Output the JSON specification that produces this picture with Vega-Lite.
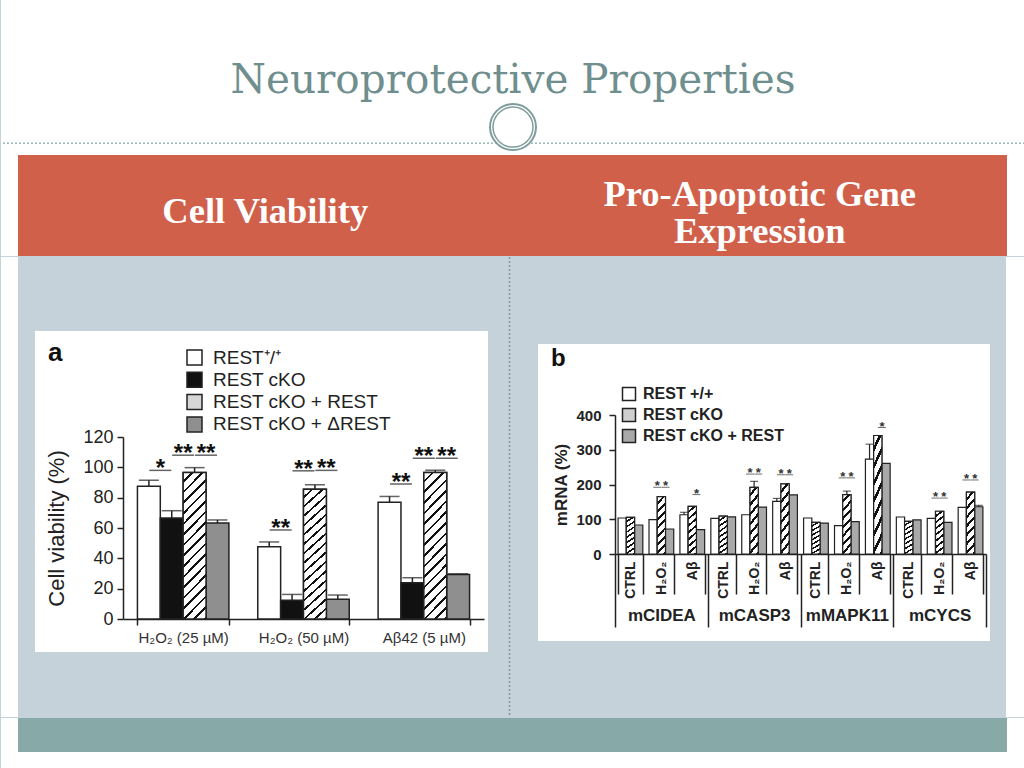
{
"$schema": "https://vega.github.io/schema/vega-lite/v6.json",
"background": "#c6d2d9",
"padding": 0,
"spacing": 0,
"config": {
  "font": "Liberation Sans",
  "view": {"stroke": null},
  "concat": {"spacing": 0},
  "axis": {"labelFont": "Liberation Sans", "titleFont": "Liberation Sans", "domainColor": "#222222", "tickColor": "#222222", "labelColor": "#222222", "titleColor": "#222222", "grid": false},
  "legend": {"labelFont": "Liberation Sans", "titleFont": "Liberation Sans"},
  "title": {"font": "Liberation Sans"}
},
"datasets": {
  "A": [
    {"g":"H₂O₂ (25 µM)","s":"REST⁺/⁺","v":87.6,"e":91.5},
    {"g":"H₂O₂ (25 µM)","s":"REST cKO","v":66.6,"e":71.4},
    {"g":"H₂O₂ (25 µM)","s":"REST cKO + REST","v":96.6,"e":99.8},
    {"g":"H₂O₂ (25 µM)","s":"REST cKO + ΔREST","v":63.3,"e":65.3},
    {"g":"H₂O₂ (50 µM)","s":"REST⁺/⁺","v":47.7,"e":50.8},
    {"g":"H₂O₂ (50 µM)","s":"REST cKO","v":12.3,"e":16.2},
    {"g":"H₂O₂ (50 µM)","s":"REST cKO + REST","v":85.6,"e":88.5},
    {"g":"H₂O₂ (50 µM)","s":"REST cKO + ΔREST","v":13.1,"e":15.8},
    {"g":"Aβ42 (5 µM)","s":"REST⁺/⁺","v":76.9,"e":80.8},
    {"g":"Aβ42 (5 µM)","s":"REST cKO","v":23.9,"e":27.2},
    {"g":"Aβ42 (5 µM)","s":"REST cKO + REST","v":96.6,"e":98.1},
    {"g":"Aβ42 (5 µM)","s":"REST cKO + ΔREST","v":29.3,"e":29.8}
  ],
  "SA": [
    {"g":"H₂O₂ (25 µM)","p":1,"v":98,"t":"*"},
    {"g":"H₂O₂ (25 µM)","p":2,"v":108,"t":"**"},
    {"g":"H₂O₂ (25 µM)","p":3,"v":108,"t":"**"},
    {"g":"H₂O₂ (50 µM)","p":1,"v":58.7,"t":"**"},
    {"g":"H₂O₂ (50 µM)","p":2,"v":97.7,"t":"**"},
    {"g":"H₂O₂ (50 µM)","p":3,"v":98,"t":"**"},
    {"g":"Aβ42 (5 µM)","p":1,"v":89,"t":"**"},
    {"g":"Aβ42 (5 µM)","p":2,"v":106,"t":"**"},
    {"g":"Aβ42 (5 µM)","p":3,"v":106,"t":"**"}
  ],
  "LA": [{"g":"H₂O₂ (25 µM)","p":-3.91,"v":170.1,"t":"a"}],
  "B": [
    {"c":"mCIDEA|CTRL","s":"REST +/+","v":103.6},
    {"c":"mCIDEA|CTRL","s":"REST cKO","v":105.5},
    {"c":"mCIDEA|CTRL","s":"REST cKO + REST","v":83.5},
    {"c":"mCIDEA|H₂O₂","s":"REST +/+","v":98.8},
    {"c":"mCIDEA|H₂O₂","s":"REST cKO","v":165},
    {"c":"mCIDEA|H₂O₂","s":"REST cKO + REST","v":72},
    {"c":"mCIDEA|Aβ","s":"REST +/+","v":113,"e":120},
    {"c":"mCIDEA|Aβ","s":"REST cKO","v":137},
    {"c":"mCIDEA|Aβ","s":"REST cKO + REST","v":70},
    {"c":"mCASP3|CTRL","s":"REST +/+","v":102.6},
    {"c":"mCASP3|CTRL","s":"REST cKO","v":109},
    {"c":"mCASP3|CTRL","s":"REST cKO + REST","v":107},
    {"c":"mCASP3|H₂O₂","s":"REST +/+","v":113},
    {"c":"mCASP3|H₂O₂","s":"REST cKO","v":192,"e":209},
    {"c":"mCASP3|H₂O₂","s":"REST cKO + REST","v":135},
    {"c":"mCASP3|Aβ","s":"REST +/+","v":151.6,"e":160},
    {"c":"mCASP3|Aβ","s":"REST cKO","v":202},
    {"c":"mCASP3|Aβ","s":"REST cKO + REST","v":170},
    {"c":"mMAPK11|CTRL","s":"REST +/+","v":103.6},
    {"c":"mMAPK11|CTRL","s":"REST cKO","v":91},
    {"c":"mMAPK11|CTRL","s":"REST cKO + REST","v":89},
    {"c":"mMAPK11|H₂O₂","s":"REST +/+","v":81.5},
    {"c":"mMAPK11|H₂O₂","s":"REST cKO","v":171,"e":181},
    {"c":"mMAPK11|H₂O₂","s":"REST cKO + REST","v":93},
    {"c":"mMAPK11|Aβ","s":"REST +/+","v":273,"e":316},
    {"c":"mMAPK11|Aβ","s":"REST cKO","v":341},
    {"c":"mMAPK11|Aβ","s":"REST cKO + REST","v":261},
    {"c":"mCYCS|CTRL","s":"REST +/+","v":106.5},
    {"c":"mCYCS|CTRL","s":"REST cKO","v":94},
    {"c":"mCYCS|CTRL","s":"REST cKO + REST","v":98},
    {"c":"mCYCS|H₂O₂","s":"REST +/+","v":102.6},
    {"c":"mCYCS|H₂O₂","s":"REST cKO","v":123},
    {"c":"mCYCS|H₂O₂","s":"REST cKO + REST","v":91},
    {"c":"mCYCS|Aβ","s":"REST +/+","v":134},
    {"c":"mCYCS|Aβ","s":"REST cKO","v":178},
    {"c":"mCYCS|Aβ","s":"REST cKO + REST","v":136,"e":140}
  ],
  "SB": [
    {"c":"mCIDEA|H₂O₂","p":1,"v":192},
    {"c":"mCIDEA|H₂O₂","p":2,"v":192},
    {"c":"mCIDEA|Aβ","p":2,"v":171},
    {"c":"mCASP3|H₂O₂","p":1,"v":230},
    {"c":"mCASP3|H₂O₂","p":2,"v":230},
    {"c":"mCASP3|Aβ","p":1,"v":228},
    {"c":"mCASP3|Aβ","p":2,"v":228},
    {"c":"mMAPK11|H₂O₂","p":1,"v":219},
    {"c":"mMAPK11|H₂O₂","p":2,"v":219},
    {"c":"mMAPK11|Aβ","p":2,"v":364},
    {"c":"mCYCS|H₂O₂","p":1,"v":161},
    {"c":"mCYCS|H₂O₂","p":2,"v":161},
    {"c":"mCYCS|Aβ","p":1,"v":213},
    {"c":"mCYCS|Aβ","p":2,"v":213}
  ],
  "LB": [{"c":"mCIDEA|CTRL","p":-8.14,"v":541,"t":"b"}],
  "GB": [{"gene":"mCIDEA"},{"gene":"mCASP3"},{"gene":"mMAPK11"},{"gene":"mCYCS"}]
},
"vconcat": [
  {
    "width": 1024, "height": 155,
    "view": {"fill": "#ffffff", "stroke": null},
    "data": {"values": [{"k": "t", "x": 0.5, "y": 0.48, "label": "Neuroprotective Properties"}, {"k": "r", "x": 0.5, "y": 0.077, "label": ""}, {"k": "c", "x": 0.5, "y": 0.18, "label": ""}]},
    "layer": [
      {"transform": [{"filter": "datum.k === 'r'"}],
       "mark": {"type": "rule", "color": "#86a3a3", "strokeDash": [2, 2], "strokeWidth": 1.2},
       "encoding": {"y": {"field": "y", "type": "quantitative", "scale": {"domain": [0, 1]}, "axis": null}}},
      {"transform": [{"filter": "datum.k === 'c'"}],
       "mark": {"type": "point", "shape": "circle", "filled": true, "color": "#ffffff", "opacity": 1, "size": 2304},
       "encoding": {"x": {"field": "x", "type": "quantitative", "scale": {"domain": [0, 1]}, "axis": null}, "y": {"field": "y", "type": "quantitative", "scale": {"domain": [0, 1]}, "axis": null}}},
      {"transform": [{"filter": "datum.k === 'c'"}],
       "mark": {"type": "point", "shape": "circle", "filled": false, "stroke": "#7f9c9c", "strokeWidth": 2, "opacity": 1, "size": 2116},
       "encoding": {"x": {"field": "x", "type": "quantitative", "scale": {"domain": [0, 1]}, "axis": null}, "y": {"field": "y", "type": "quantitative", "scale": {"domain": [0, 1]}, "axis": null}}},
      {"transform": [{"filter": "datum.k === 'c'"}],
       "mark": {"type": "point", "shape": "circle", "filled": false, "stroke": "#7f9c9c", "strokeWidth": 1.5, "opacity": 1, "size": 1600},
       "encoding": {"x": {"field": "x", "type": "quantitative", "scale": {"domain": [0, 1]}, "axis": null}, "y": {"field": "y", "type": "quantitative", "scale": {"domain": [0, 1]}, "axis": null}}},
      {"transform": [{"filter": "datum.k === 't'"}],
       "mark": {"type": "text", "font": "DejaVu Serif", "fontSize": 40.5, "color": "#6f8e8e", "baseline": "middle"},
       "encoding": {"x": {"field": "x", "type": "quantitative", "scale": {"domain": [0, 1]}, "axis": null}, "y": {"field": "y", "type": "quantitative", "axis": null}, "text": {"field": "label"}}}
    ]
  },
  {
    "hconcat": [
      {"width": 17, "height": 101, "data": {"values": [{}]}, "mark": {"type": "text", "text": ""}, "view": {"fill": "#ffffff", "stroke": null}},
      {
        "width": 989, "height": 101,
        "view": {"fill": "#d0604a", "stroke": null},
        "layer": [
          {"data": {"values": [{"c": "L", "y": 0.436, "t": "Cell Viability"}, {"c": "R", "y": 0.604, "t": ["Pro-Apoptotic Gene", "Expression"]}]},
           "mark": {"type": "text", "font": "Liberation Serif", "fontWeight": "bold", "fontSize": 36.5, "color": "#ffffff", "baseline": "middle", "lineHeight": 37},
           "encoding": {"x": {"field": "c", "type": "nominal", "axis": null, "scale": {"domain": ["L", "R"]}}, "y": {"field": "y", "type": "quantitative", "scale": {"domain": [0, 1]}, "axis": null}, "text": {"field": "t"}}}
        ]
      },
      {"width": 18, "height": 101, "data": {"values": [{}]}, "mark": {"type": "text", "text": ""}, "view": {"fill": "#ffffff", "stroke": null}}
    ],
    "spacing": 0
  },
  {
    "hconcat": [
      {"width": 17, "height": 460, "data": {"values": [{}]}, "mark": {"type": "text", "text": ""}, "view": {"fill": "#ffffff", "stroke": null}},
      {"width": 17, "height": 460, "data": {"values": [{}]}, "mark": {"type": "text", "text": ""}, "view": {"stroke": null}},
      {
        "vconcat": [
          {"width": 453, "height": 74, "data": {"values": [{}]}, "mark": {"type": "text", "text": ""}, "view": {"stroke": null}},
          {
            "width": 453, "height": 321,
            "view": {"fill": "#ffffff", "stroke": null},
            "resolve": {"scale": {"xOffset": "independent"}},
            "layer": [
              {
                "data": {"name": "A"},
                "layer": [
                  {
                    "mark": {"type": "bar", "stroke": "#222222", "strokeWidth": 1.5},
                    "encoding": {
                      "x": {"field": "g", "type": "nominal", "scale": {"domain": ["H₂O₂ (25 µM)", "H₂O₂ (50 µM)", "Aβ42 (5 µM)"], "range": [88, 449], "paddingInner": 0.24, "paddingOuter": 0.12},
                            "axis": {"title": null, "offset": -33, "tickBand": "extent", "tickSize": 6, "tickWidth": 1.5, "domainWidth": 1.5, "labelAngle": 0, "labelPadding": 5, "labelFontSize": 15, "labelColor": "#333333"}},
                      "xOffset": {"field": "s", "type": "nominal", "scale": {"domain": ["REST⁺/⁺", "REST cKO", "REST cKO + REST", "REST cKO + ΔREST"], "paddingInner": 0, "paddingOuter": 0}},
                      "y": {"field": "v", "type": "quantitative", "scale": {"domain": [0, 120], "range": [288, 106], "nice": false},
                            "axis": {"title": "Cell viability (%)", "offset": -88, "values": [0, 20, 40, 60, 80, 100, 120], "tickSize": 6, "tickWidth": 1.5, "domainWidth": 1.5, "labelPadding": 4, "labelFontSize": 18, "titleFontSize": 22, "titleFontWeight": "normal", "titlePadding": 14}},
                      "color": {"field": "s", "type": "nominal", "scale": {"domain": ["REST⁺/⁺", "REST cKO", "REST cKO + REST", "REST cKO + ΔREST"], "range": ["#ffffff", "#111111", "#d6d6d6", "#8f8f8f"]},
                                "legend": {"title": null, "orient": "none", "legendX": 184, "legendY": 348, "symbolType": "square", "symbolSize": 225, "symbolStrokeColor": "#222222", "symbolStrokeWidth": 1.5, "labelFontSize": 19, "labelColor": "#222222", "labelOffset": 9, "labelLimit": 400, "rowPadding": 1.3}}
                    }
                  },
                  {
                    "transform": [{"filter": "datum.s === 'REST cKO + REST'"}],
                    "mark": {"type": "bar", "stroke": "#222222", "strokeWidth": 1.5,
                      "fill": {"gradient": "linear", "x1": 0, "y1": 0, "x2": 0.18, "y2": 1.13, "stops": [
                        {"offset": 0, "color": "#ffffff"}, {"offset": 0.046875, "color": "#ffffff"}, {"offset": 0.046875, "color": "#111111"}, {"offset": 0.0625, "color": "#111111"},
                        {"offset": 0.0625, "color": "#ffffff"}, {"offset": 0.109375, "color": "#ffffff"}, {"offset": 0.109375, "color": "#111111"}, {"offset": 0.125, "color": "#111111"},
                        {"offset": 0.125, "color": "#ffffff"}, {"offset": 0.171875, "color": "#ffffff"}, {"offset": 0.171875, "color": "#111111"}, {"offset": 0.1875, "color": "#111111"},
                        {"offset": 0.1875, "color": "#ffffff"}, {"offset": 0.234375, "color": "#ffffff"}, {"offset": 0.234375, "color": "#111111"}, {"offset": 0.25, "color": "#111111"},
                        {"offset": 0.25, "color": "#ffffff"}, {"offset": 0.296875, "color": "#ffffff"}, {"offset": 0.296875, "color": "#111111"}, {"offset": 0.3125, "color": "#111111"},
                        {"offset": 0.3125, "color": "#ffffff"}, {"offset": 0.359375, "color": "#ffffff"}, {"offset": 0.359375, "color": "#111111"}, {"offset": 0.375, "color": "#111111"},
                        {"offset": 0.375, "color": "#ffffff"}, {"offset": 0.421875, "color": "#ffffff"}, {"offset": 0.421875, "color": "#111111"}, {"offset": 0.4375, "color": "#111111"},
                        {"offset": 0.4375, "color": "#ffffff"}, {"offset": 0.484375, "color": "#ffffff"}, {"offset": 0.484375, "color": "#111111"}, {"offset": 0.5, "color": "#111111"},
                        {"offset": 0.5, "color": "#ffffff"}, {"offset": 0.546875, "color": "#ffffff"}, {"offset": 0.546875, "color": "#111111"}, {"offset": 0.5625, "color": "#111111"},
                        {"offset": 0.5625, "color": "#ffffff"}, {"offset": 0.609375, "color": "#ffffff"}, {"offset": 0.609375, "color": "#111111"}, {"offset": 0.625, "color": "#111111"},
                        {"offset": 0.625, "color": "#ffffff"}, {"offset": 0.671875, "color": "#ffffff"}, {"offset": 0.671875, "color": "#111111"}, {"offset": 0.6875, "color": "#111111"},
                        {"offset": 0.6875, "color": "#ffffff"}, {"offset": 0.734375, "color": "#ffffff"}, {"offset": 0.734375, "color": "#111111"}, {"offset": 0.75, "color": "#111111"},
                        {"offset": 0.75, "color": "#ffffff"}, {"offset": 0.796875, "color": "#ffffff"}, {"offset": 0.796875, "color": "#111111"}, {"offset": 0.8125, "color": "#111111"},
                        {"offset": 0.8125, "color": "#ffffff"}, {"offset": 0.859375, "color": "#ffffff"}, {"offset": 0.859375, "color": "#111111"}, {"offset": 0.875, "color": "#111111"},
                        {"offset": 0.875, "color": "#ffffff"}, {"offset": 0.921875, "color": "#ffffff"}, {"offset": 0.921875, "color": "#111111"}, {"offset": 0.9375, "color": "#111111"},
                        {"offset": 0.9375, "color": "#ffffff"}, {"offset": 0.984375, "color": "#ffffff"}, {"offset": 0.984375, "color": "#111111"}, {"offset": 1, "color": "#111111"}
                      ]}},
                    "encoding": {
                      "x": {"field": "g", "type": "nominal"},
                      "xOffset": {"field": "s", "type": "nominal"},
                      "y": {"field": "v", "type": "quantitative"}
                    }
                  },
                  {
                    "mark": {"type": "rule", "color": "#222222", "strokeWidth": 1.5},
                    "encoding": {
                      "x": {"field": "g", "type": "nominal"},
                      "xOffset": {"field": "s", "type": "nominal"},
                      "y": {"field": "v", "type": "quantitative"},
                      "y2": {"field": "e"}
                    }
                  },
                  {
                    "mark": {"type": "tick", "color": "#222222", "thickness": 1.5, "size": 20, "orient": "horizontal"},
                    "encoding": {
                      "x": {"field": "g", "type": "nominal"},
                      "xOffset": {"field": "s", "type": "nominal"},
                      "y": {"field": "e", "type": "quantitative"}
                    }
                  }
                ]
              },
              {
                "layer": [
                  {
                    "data": {"name": "SA"},
                    "mark": {"type": "tick", "color": "#222222", "thickness": 1.5, "size": 22, "orient": "horizontal"},
                    "encoding": {
                      "x": {"field": "g", "type": "nominal"},
                      "xOffset": {"field": "p", "type": "quantitative", "scale": {"domain": [0, 4], "range": [0, 91.45]}},
                      "y": {"field": "v", "type": "quantitative"}
                    }
                  },
                  {
                    "data": {"name": "SA"},
                    "mark": {"type": "text", "fontSize": 24, "fontWeight": "bold", "color": "#111111", "baseline": "alphabetic", "align": "center", "dy": 6},
                    "encoding": {
                      "x": {"field": "g", "type": "nominal"},
                      "xOffset": {"field": "p", "type": "quantitative", "scale": {"domain": [0, 4], "range": [0, 91.45]}},
                      "y": {"field": "v", "type": "quantitative"},
                      "text": {"field": "t"}
                    }
                  },
                  {
                    "data": {"name": "LA"},
                    "mark": {"type": "text", "fontSize": 26, "fontWeight": "bold", "color": "#111111", "baseline": "alphabetic", "align": "left"},
                    "encoding": {
                      "x": {"field": "g", "type": "nominal"},
                      "xOffset": {"field": "p", "type": "quantitative", "scale": {"domain": [0, 4], "range": [0, 91.45]}},
                      "y": {"field": "v", "type": "quantitative"},
                      "text": {"field": "t"}
                    }
                  }
                ]
              }
            ]
          },
          {"width": 453, "height": 65, "data": {"values": [{}]}, "mark": {"type": "text", "text": ""}, "view": {"stroke": null}}
        ],
        "spacing": 0
      },
      {"width": 43, "height": 460, "data": {"values": [{"x": 0.5}]}, "mark": {"type": "rule", "color": "#7f979f", "strokeDash": [2, 2], "strokeWidth": 1.5},
       "encoding": {"x": {"field": "x", "type": "quantitative", "scale": {"domain": [0, 1]}, "axis": null}}, "view": {"stroke": null}},
      {
        "vconcat": [
          {"width": 452, "height": 87, "data": {"values": [{}]}, "mark": {"type": "text", "text": ""}, "view": {"stroke": null}},
          {
            "width": 452, "height": 297,
            "view": {"fill": "#ffffff", "stroke": null},
            "resolve": {"scale": {"x": "independent"}, "axis": {"x": "independent"}},
            "layer": [
              {
                "resolve": {"scale": {"xOffset": "independent"}},
                "layer": [
                  {
                    "data": {"name": "B"},
                    "layer": [
                      {
                        "mark": {"type": "bar", "stroke": "#222222", "strokeWidth": 1.2},
                        "encoding": {
                          "x": {"field": "c", "type": "nominal",
                                "scale": {"domain": ["mCIDEA|CTRL", "mCIDEA|H₂O₂", "mCIDEA|Aβ", "mCASP3|CTRL", "mCASP3|H₂O₂", "mCASP3|Aβ", "mMAPK11|CTRL", "mMAPK11|H₂O₂", "mMAPK11|Aβ", "mCYCS|CTRL", "mCYCS|H₂O₂", "mCYCS|Aβ"], "range": [77, 448], "paddingInner": 0.2, "paddingOuter": 0.1},
                                "axis": {"title": null, "orient": "bottom", "offset": -87, "tickBand": "extent", "tickSize": 40, "tickWidth": 1.5, "domainWidth": 1.5, "labelAngle": 270, "labelPadding": -33, "labelFontSize": 14, "labelFontWeight": "bold", "labelOverlap": false, "labelBound": false, "labelExpr": "split(datum.value, '|')[1]"}},
                          "xOffset": {"field": "s", "type": "nominal", "scale": {"domain": ["REST +/+", "REST cKO", "REST cKO + REST"], "paddingInner": 0, "paddingOuter": 0}},
                          "y": {"field": "v", "type": "quantitative", "scale": {"domain": [0, 400], "range": [210, 71], "nice": false},
                                "axis": {"title": "mRNA (%)", "offset": -77, "values": [0, 100, 200, 300, 400], "tickSize": 6, "tickWidth": 1.5, "domainWidth": 1.5, "labelPadding": 8, "labelFontSize": 15, "labelFontWeight": "bold", "titleFontSize": 17, "titleFontWeight": "bold", "titlePadding": 5}},
                          "fill": {"field": "s", "type": "nominal", "scale": {"domain": ["REST +/+", "REST cKO", "REST cKO + REST"], "range": ["#ffffff", "#cfcfcf", "#a9a9a9"]},
                                    "legend": {"title": null, "orient": "none", "legendX": 620, "legendY": 386, "symbolType": "square", "symbolSize": 169, "symbolStrokeColor": "#222222", "symbolStrokeWidth": 1.5, "labelFontSize": 16, "labelFontWeight": "bold", "labelColor": "#222222", "labelOffset": 6, "labelLimit": 400, "rowPadding": 1}}
                        }
                      },
                      {
                        "transform": [{"filter": "datum.s === 'REST cKO'"}],
                        "mark": {"type": "bar", "stroke": "#222222", "strokeWidth": 1.2,
                          "fill": {"gradient": "linear", "x1": 0, "y1": 0, "x2": 0.17, "y2": 1.13, "stops": [
                            {"offset": 0, "color": "#ffffff"}, {"offset": 0.08, "color": "#ffffff"}, {"offset": 0.08, "color": "#111111"}, {"offset": 0.125, "color": "#111111"},
                            {"offset": 0.125, "color": "#ffffff"}, {"offset": 0.205, "color": "#ffffff"}, {"offset": 0.205, "color": "#111111"}, {"offset": 0.25, "color": "#111111"},
                            {"offset": 0.25, "color": "#ffffff"}, {"offset": 0.33, "color": "#ffffff"}, {"offset": 0.33, "color": "#111111"}, {"offset": 0.375, "color": "#111111"},
                            {"offset": 0.375, "color": "#ffffff"}, {"offset": 0.455, "color": "#ffffff"}, {"offset": 0.455, "color": "#111111"}, {"offset": 0.5, "color": "#111111"},
                            {"offset": 0.5, "color": "#ffffff"}, {"offset": 0.58, "color": "#ffffff"}, {"offset": 0.58, "color": "#111111"}, {"offset": 0.625, "color": "#111111"},
                            {"offset": 0.625, "color": "#ffffff"}, {"offset": 0.705, "color": "#ffffff"}, {"offset": 0.705, "color": "#111111"}, {"offset": 0.75, "color": "#111111"},
                            {"offset": 0.75, "color": "#ffffff"}, {"offset": 0.83, "color": "#ffffff"}, {"offset": 0.83, "color": "#111111"}, {"offset": 0.875, "color": "#111111"},
                            {"offset": 0.875, "color": "#ffffff"}, {"offset": 0.955, "color": "#ffffff"}, {"offset": 0.955, "color": "#111111"}, {"offset": 1, "color": "#111111"}
                          ]}},
                        "encoding": {
                          "x": {"field": "c", "type": "nominal"},
                          "xOffset": {"field": "s", "type": "nominal"},
                          "y": {"field": "v", "type": "quantitative"}
                        }
                      },
                      {
                        "transform": [{"filter": "isValid(datum.e)"}],
                        "mark": {"type": "rule", "color": "#222222", "strokeWidth": 1.2},
                        "encoding": {
                          "x": {"field": "c", "type": "nominal"},
                          "xOffset": {"field": "s", "type": "nominal"},
                          "y": {"field": "v", "type": "quantitative"},
                          "y2": {"field": "e"}
                        }
                      },
                      {
                        "transform": [{"filter": "isValid(datum.e)"}],
                        "mark": {"type": "tick", "color": "#222222", "thickness": 1.2, "size": 8, "orient": "horizontal"},
                        "encoding": {
                          "x": {"field": "c", "type": "nominal"},
                          "xOffset": {"field": "s", "type": "nominal"},
                          "y": {"field": "e", "type": "quantitative"}
                        }
                      }
                    ]
                  },
                  {
                    "layer": [
                      {
                        "data": {"name": "SB"},
                        "mark": {"type": "tick", "color": "#333333", "thickness": 1, "size": 8, "orient": "horizontal"},
                        "encoding": {
                          "x": {"field": "c", "type": "nominal"},
                          "xOffset": {"field": "p", "type": "quantitative", "scale": {"domain": [0, 3], "range": [0, 24.74]}},
                          "y": {"field": "v", "type": "quantitative"}
                        }
                      },
                      {
                        "data": {"name": "SB"},
                        "mark": {"type": "text", "text": "*", "fontSize": 13, "fontWeight": "bold", "color": "#333333", "baseline": "alphabetic", "align": "center", "dy": 3},
                        "encoding": {
                          "x": {"field": "c", "type": "nominal"},
                          "xOffset": {"field": "p", "type": "quantitative", "scale": {"domain": [0, 3], "range": [0, 24.74]}},
                          "y": {"field": "v", "type": "quantitative"}
                        }
                      },
                      {
                        "data": {"name": "LB"},
                        "mark": {"type": "text", "fontSize": 24, "fontWeight": "bold", "color": "#111111", "baseline": "alphabetic", "align": "left"},
                        "encoding": {
                          "x": {"field": "c", "type": "nominal"},
                          "xOffset": {"field": "p", "type": "quantitative", "scale": {"domain": [0, 3], "range": [0, 24.74]}},
                          "y": {"field": "v", "type": "quantitative"},
                          "text": {"field": "t"}
                        }
                      }
                    ]
                  }
                ]
              },
              {
                "data": {"name": "GB"},
                "mark": {"type": "text", "text": " "},
                "encoding": {
                  "x": {"field": "gene", "type": "nominal",
                        "scale": {"type": "band", "domain": ["mCIDEA", "mCASP3", "mMAPK11", "mCYCS"], "range": [77, 448], "paddingInner": 0, "paddingOuter": 0},
                        "axis": {"title": null, "orient": "bottom", "offset": -87, "domain": false, "tickBand": "extent", "tickSize": 73, "tickWidth": 1.5, "labelPadding": -20, "labelFontSize": 17, "labelFontWeight": "bold", "labelAngle": 0}}
                }
              }
            ]
          },
          {"width": 452, "height": 76, "data": {"values": [{}]}, "mark": {"type": "text", "text": ""}, "view": {"stroke": null}}
        ],
        "spacing": 0
      },
      {"width": 16, "height": 460, "data": {"values": [{}]}, "mark": {"type": "text", "text": ""}, "view": {"stroke": null}},
      {"width": 18, "height": 460, "data": {"values": [{}]}, "mark": {"type": "text", "text": ""}, "view": {"fill": "#ffffff", "stroke": null}}
    ],
    "spacing": 0
  },
  {
    "hconcat": [
      {"width": 17, "height": 34, "data": {"values": [{}]}, "mark": {"type": "text", "text": ""}, "view": {"fill": "#ffffff", "stroke": null}},
      {"width": 989, "height": 34, "data": {"values": [{}]}, "mark": {"type": "text", "text": ""}, "view": {"fill": "#87aaa9", "stroke": null}},
      {"width": 18, "height": 34, "data": {"values": [{}]}, "mark": {"type": "text", "text": ""}, "view": {"fill": "#ffffff", "stroke": null}}
    ],
    "spacing": 0
  },
  {"width": 1024, "height": 18, "data": {"values": [{}]}, "mark": {"type": "text", "text": ""}, "view": {"fill": "#ffffff", "stroke": null}}
]
}
